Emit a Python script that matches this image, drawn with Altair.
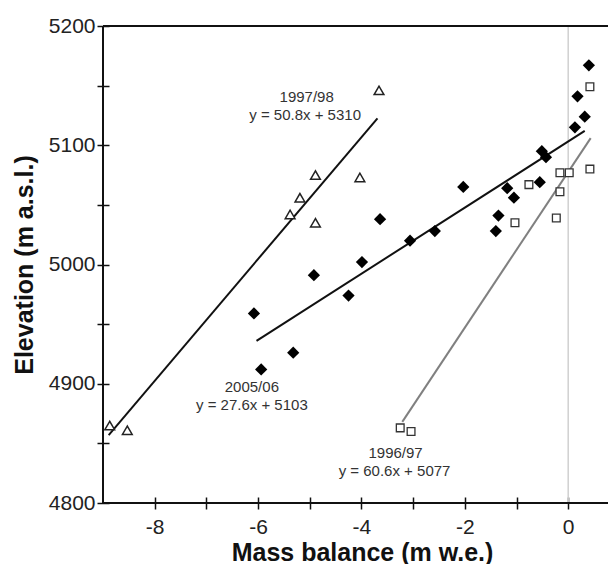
import altair as alt
import pandas as pd

# ---- data ----
x_domain = [-9, 0.77]
y_domain = [4800, 5200]

tri_x = [-8.87, -8.53, -5.38, -5.19, -4.89, -4.89, -4.03, -3.66]
tri_y = [4865, 4861, 5042, 5056, 5075, 5035, 5073, 5146]

dia_x = [0.40, 0.18, 0.32, 0.13, -0.51, -0.43, -0.55, -1.18, -1.05, -2.03, -1.35,
         -1.40, -2.58, -3.06, -3.64, -3.99, -4.92, -4.25, -6.08, -5.32, -5.94]
dia_y = [5167, 5141, 5124, 5115, 5095, 5090, 5069, 5064, 5056, 5065, 5041,
         5028, 5028, 5020, 5038, 5002, 4991, 4974, 4959, 4926, 4912]

sq_x = [0.42, 0.42, 0.02, -0.16, -0.16, -0.76, -0.23, -1.03, -3.25, -3.04]
sq_y = [5149, 5080, 5077, 5077, 5061, 5067, 5039, 5035, 4863, 4860]

line_year = ["1997/98", "1997/98", "2005/06", "2005/06", "1996/97", "1996/97"]
line_x = [-8.89, -3.69, -6.03, 0.32, -3.21, 0.435]
line_y = [4857, 5122.6, 4936, 5112, 4868, 5106]

label_text = ["1997/98", "y = 50.8x + 5310", "2005/06", "y = 27.6x + 5103",
              "1996/97", "y = 60.6x + 5077"]
label_x = [-5.06, -5.09, -6.12, -6.12, -3.34, -3.36]
label_y = [5140.7, 5125.3, 4897.5, 4882, 4842, 4826.8]

zero_x = [0]

x_ticks = [-8, -7, -6, -5, -4, -3, -2, -1, 0]
y_ticks = [4800, 4850, 4900, 4950, 5000, 5050, 5100, 5150, 5200]

FONT = "Liberation Sans"
W, H = 505, 477

tri = pd.DataFrame({"x": tri_x, "y": tri_y})
dia = pd.DataFrame({"x": dia_x, "y": dia_y})
sq = pd.DataFrame({"x": sq_x, "y": sq_y})
lines = pd.DataFrame({"year": line_year, "x": line_x, "y": line_y})
labels = pd.DataFrame({"t": label_text, "x": label_x, "y": label_y})
zero_df = pd.DataFrame({"x": zero_x})
one = pd.DataFrame({"a": [0]})

xs = alt.Scale(domain=x_domain, nice=False, zero=False)
ys = alt.Scale(domain=y_domain, nice=False, zero=False)

x_axis = alt.Axis(
    values=x_ticks,
    labelExpr="datum.value % 2 == 0 ? '' + datum.value : ''",
    offset=-6, tickSize=12, tickWidth=1.5, tickColor="#111",
    domain=False, grid=False,
    labelFont=FONT, labelFontSize=21, labelColor="#222", labelPadding=7,
    title="Mass balance (m w.e.)", titleFont=FONT, titleFontSize=25,
    titleFontWeight="bold", titleColor="#111",
    titleX=259, titleY=63, titleBaseline="alphabetic", titleAlign="center",
)
y_axis = alt.Axis(
    values=y_ticks,
    labelExpr="datum.value % 100 == 0 ? '' + datum.value : ''",
    offset=-6, tickSize=12, tickWidth=1.5, tickColor="#111",
    domain=False, grid=False,
    labelFont=FONT, labelFontSize=21, labelColor="#222", labelPadding=2,
    title="Elevation (m a.s.l.)", titleFont=FONT, titleFontSize=25,
    titleFontWeight="bold", titleColor="#111", titleAngle=-90,
    titleX=-77, titleY=H / 2, titleBaseline="alphabetic", titleAlign="center",
)


def X():
    return alt.X("x:Q", scale=xs, axis=x_axis, title="Mass balance (m w.e.)")


def Y():
    return alt.Y("y:Q", scale=ys, axis=y_axis, title="Elevation (m a.s.l.)")


zero_line = alt.Chart(zero_df).mark_rule(color="#d0d0d0", strokeWidth=1.5).encode(
    x=X(), y=alt.value(0), y2=alt.value(H),
)

fit_lines = alt.Chart(lines).mark_line(strokeWidth=2).encode(
    x=X(), y=Y(),
    color=alt.Color("year:N", scale=alt.Scale(domain=["1997/98", "2005/06", "1996/97"],
                                              range=["#111111", "#111111", "#808080"]),
                    legend=None),
    detail="year:N",
)

squares = alt.Chart(sq).mark_point(shape="square", size=60, filled=True, fill="white",
                                   stroke="#333", strokeWidth=1.3, opacity=1).encode(
    x=X(), y=Y())

triangles = alt.Chart(tri).mark_point(shape="triangle-up", size=95, filled=True, fill="white",
                                      stroke="#222", strokeWidth=1.5, opacity=1).encode(
    x=X(), y=Y())

diamonds = alt.Chart(dia).mark_point(shape="diamond", size=150, filled=True,
                                     color="#000", opacity=1).encode(
    x=X(), y=Y())

texts = alt.Chart(labels).mark_text(font=FONT, fontSize=15, color="#333",
                                    align="center", baseline="middle").encode(
    x=X(), y=Y(), text="t:N")

left_frame = alt.Chart(one).mark_rule(color="#111", strokeWidth=2).encode(
    x=alt.value(0), y=alt.value(0), y2=alt.value(H))
bottom_frame = alt.Chart(one).mark_rule(color="#111", strokeWidth=2).encode(
    x=alt.value(0), x2=alt.value(W), y=alt.value(H))
top_frame = alt.Chart(one).mark_rule(color="#111", strokeWidth=2).encode(
    x=alt.value(0), x2=alt.value(W), y=alt.value(0))

chart = alt.layer(
    zero_line, fit_lines, squares, triangles, diamonds, texts,
    left_frame, bottom_frame, top_frame,
).properties(
    width=W, height=H,
    autosize=alt.AutoSizeParams(type="none"),
    padding={"left": 95, "top": 18, "right": 0, "bottom": 61},
).configure_view(stroke="transparent")

chart.save("out.html", embed_options={"renderer": "svg", "actions": False})
